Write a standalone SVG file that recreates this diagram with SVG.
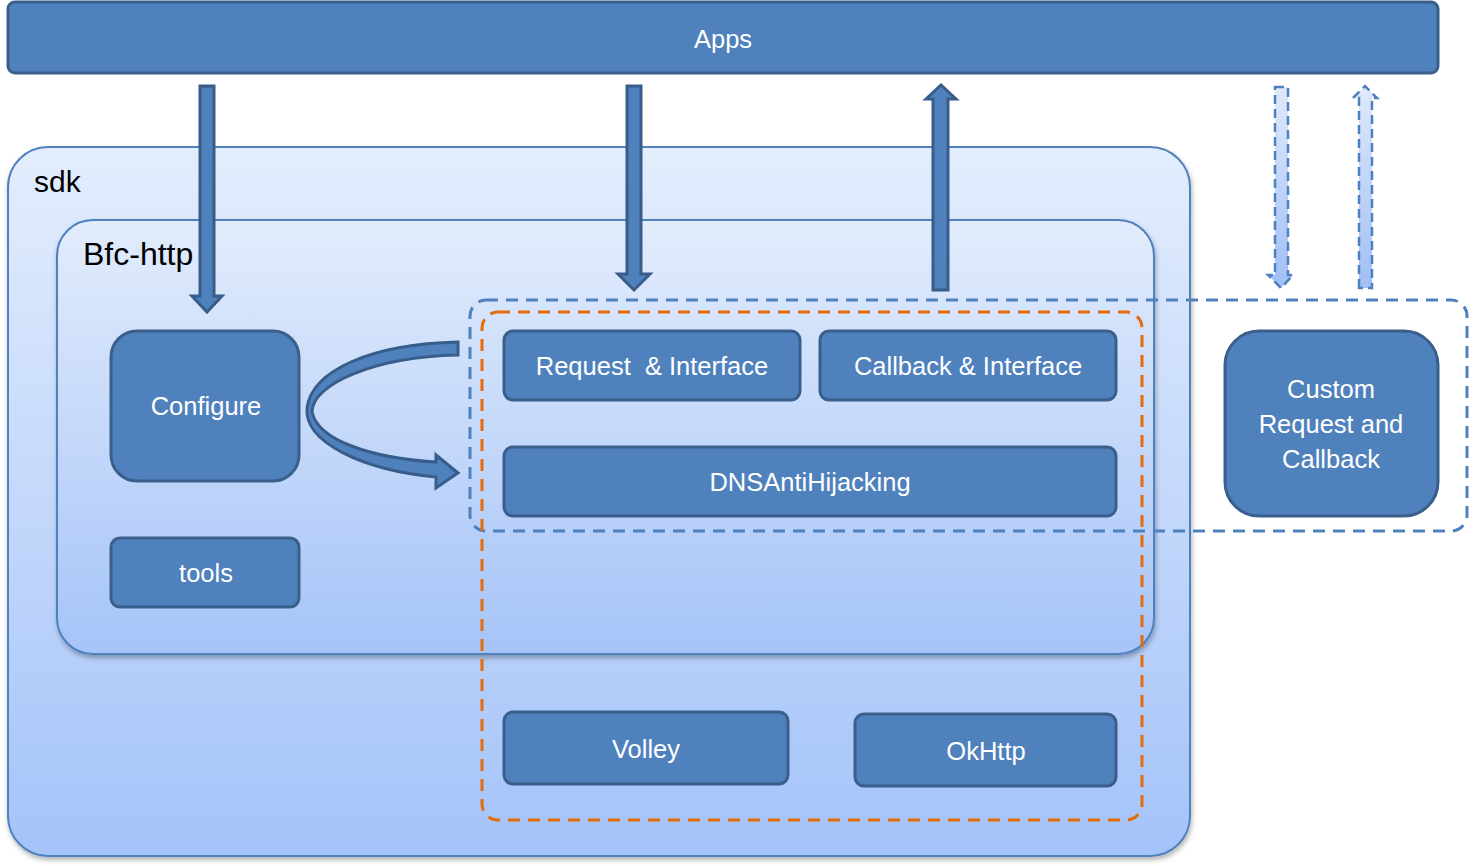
<svg xmlns="http://www.w3.org/2000/svg" width="1476" height="866" viewBox="0 0 1476 866">
<defs>
<linearGradient id="gSdk" x1="0" y1="0" x2="0" y2="1"><stop offset="0" stop-color="#E3EDFD"/><stop offset="1" stop-color="#A4C3F9"/></linearGradient>
<linearGradient id="gBfc" x1="0" y1="0" x2="0" y2="1"><stop offset="0" stop-color="#E2ECFC"/><stop offset="1" stop-color="#A6C4F8"/></linearGradient>
<linearGradient id="gDash" x1="0" y1="0" x2="0" y2="1"><stop offset="0" stop-color="#DFE9FC"/><stop offset="1" stop-color="#A0BFF6"/></linearGradient>
<filter id="sh" x="-5%" y="-5%" width="110%" height="115%"><feDropShadow dx="1" dy="3" stdDeviation="2.5" flood-color="#000" flood-opacity="0.3"/></filter>
</defs>
<style>
.node{fill:#4F81BD;stroke:#3A5F8B;stroke-width:3}
.lbl{font-family:"Liberation Sans",Arial,sans-serif;font-size:25.5px;fill:#FFFFFF;text-anchor:middle;white-space:pre}
.title{font-family:"Liberation Sans",Arial,sans-serif;font-size:30px;fill:#000000}
.arrow{fill:#4F81BD;stroke:#385D8A;stroke-width:3;stroke-linejoin:miter}
.darrow{fill:url(#gDash);stroke:#4F81BD;stroke-width:2.5;stroke-dasharray:9 5}
</style>
<g id="apps"><rect class="node" x="8" y="2" width="1430" height="71" rx="7"/><text class="lbl" x="723" y="48">Apps</text></g>
<g id="sdk"><rect x="8" y="147" width="1182" height="709" rx="40" fill="url(#gSdk)" stroke="#4F81BD" stroke-width="2" filter="url(#sh)"/><text class="title" x="34" y="192">sdk</text></g>
<g id="bfc-http"><rect x="57" y="220" width="1097" height="434" rx="36" fill="url(#gBfc)" stroke="#4F81BD" stroke-width="2" filter="url(#sh)"/><text class="title" x="83" y="265" style="font-size:32px">Bfc-http</text></g>
<g id="interface-group"><rect x="470" y="300" width="997" height="231" rx="16" fill="none" stroke="#4F81BD" stroke-width="3" stroke-dasharray="12 8"/></g>
<g id="impl-group"><rect x="482" y="312" width="660" height="508" rx="16" fill="none" stroke="#E46C0A" stroke-width="3" stroke-dasharray="12 8"/></g>
<g id="configure"><rect class="node" x="111" y="331" width="188" height="150" rx="26"/><text class="lbl" x="206" y="415">Configure</text></g>
<g id="tools"><rect class="node" x="111" y="538" width="188" height="69" rx="9"/><text class="lbl" x="206" y="582">tools</text></g>
<g id="request-interface"><rect class="node" x="504" y="331" width="296" height="69" rx="9"/><text class="lbl" x="652" y="375">Request  &amp; Interface</text></g>
<g id="callback-interface"><rect class="node" x="820" y="331" width="296" height="69" rx="9"/><text class="lbl" x="968" y="375">Callback &amp; Interface</text></g>
<g id="dns"><rect class="node" x="504" y="447" width="612" height="69" rx="9"/><text class="lbl" x="810" y="491">DNSAntiHijacking</text></g>
<g id="volley"><rect class="node" x="504" y="712" width="284" height="72" rx="9"/><text class="lbl" x="646" y="758">Volley</text></g>
<g id="okhttp"><rect class="node" x="855" y="714" width="261" height="72" rx="9"/><text class="lbl" x="986" y="760">OkHttp</text></g>
<g id="custom"><rect class="node" x="1225" y="331" width="213" height="185" rx="34"/><text class="lbl" x="1331" y="398">Custom</text><text class="lbl" x="1331" y="433">Request and</text><text class="lbl" x="1331" y="468">Callback</text></g>
<g id="connectors">
<path class="arrow" d="M200,86 H214 V296 H222 L207,312 L192,296 H200 Z"/>
<path class="arrow" d="M627,86 H641 V274 H650 L634,290 L618,274 H627 Z"/>
<path class="arrow" d="M933,290 V99 H926 L941,85 L956,99 H948 V290 Z"/>
<path class="darrow" d="M1275,87 H1288 V275 H1293 L1281,288 L1268,275 H1275 Z"/>
<path class="darrow" d="M1359,288 V98 H1353 L1365,86 L1377,98 H1372 V288 Z"/>
<path class="arrow" d="M458,342 C372,344 312,370 307,408 C304,442 362,470 436,477 L436,488 L458,473 L436,455 L436,462 C370,458 318,440 312,412 C312,385 372,357 458,355 Z"/>
</g>
</svg>
